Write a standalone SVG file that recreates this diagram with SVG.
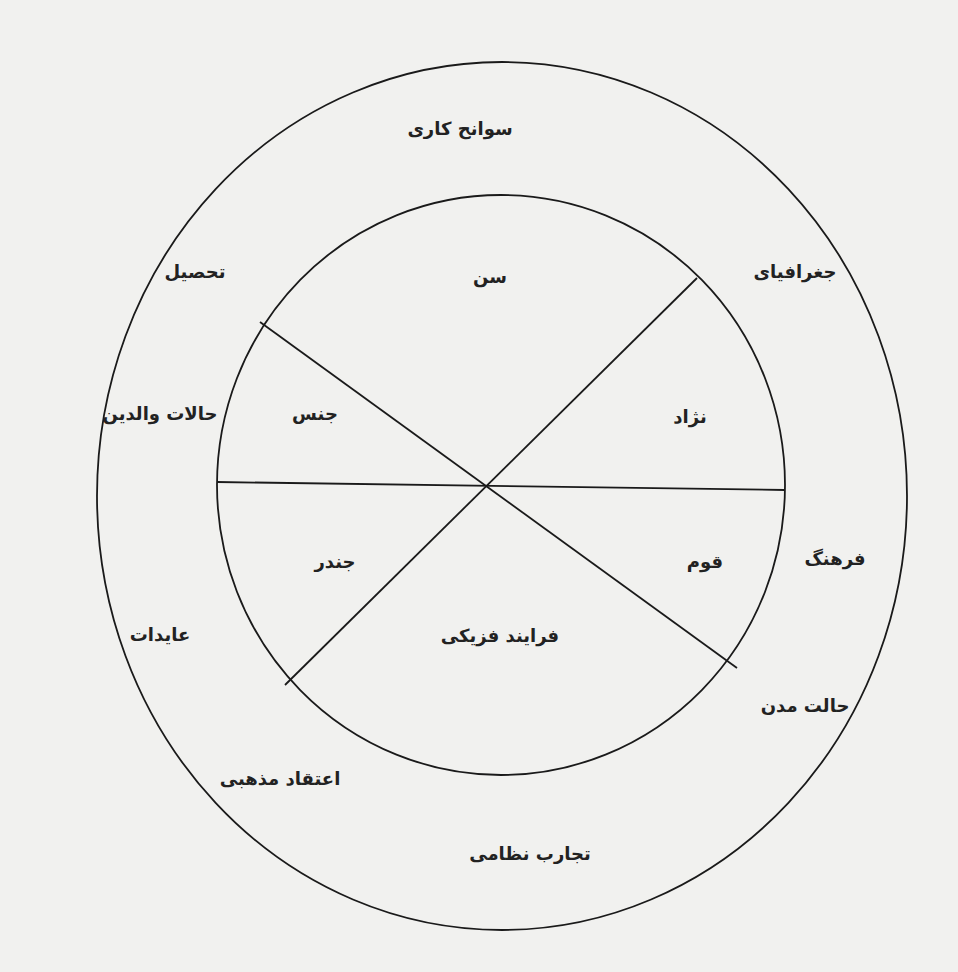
<svg xmlns="http://www.w3.org/2000/svg" width="958" height="972" viewBox="0 0 958 972">
<style>
.ln{fill:none;stroke:#1a1a1a;stroke-width:1.8}
.t{font-family:"DejaVu Sans","Noto Sans",sans-serif;font-weight:bold;font-size:18px;fill:#222;text-anchor:middle;dominant-baseline:middle}
</style>
<rect x="0" y="0" width="958" height="972" fill="#f1f1ef"/>
<g id="outer"><ellipse class="ln" cx="502" cy="496" rx="405" ry="434"/></g>
<g id="inner"><ellipse class="ln" cx="501" cy="485" rx="284" ry="290"/></g>
<g id="connectors">
<line class="ln" x1="217" y1="482" x2="785" y2="490"/>
<line class="ln" x1="697" y1="278" x2="285" y2="685"/>
<line class="ln" x1="260" y1="322" x2="737" y2="668"/>
</g>
<g id="n1"><text class="t" x="460" y="130" direction="rtl">سوانح کاری</text></g>
<g id="n2"><text class="t" x="195" y="273" direction="rtl">تحصیل</text></g>
<g id="n3"><text class="t" x="795" y="273" direction="rtl">جغرافیای</text></g>
<g id="n4"><text class="t" x="160" y="415" direction="rtl">حالات والدین</text></g>
<g id="n5"><text class="t" x="490" y="278" direction="rtl">سن</text></g>
<g id="n6"><text class="t" x="315" y="415" direction="rtl">جنس</text></g>
<g id="n7"><text class="t" x="690" y="418" direction="rtl">نژاد</text></g>
<g id="n8"><text class="t" x="335" y="563" direction="rtl">جندر</text></g>
<g id="n9"><text class="t" x="705" y="563" direction="rtl">قوم</text></g>
<g id="n10"><text class="t" x="835" y="560" direction="rtl">فرهنگ</text></g>
<g id="n11"><text class="t" x="160" y="636" direction="rtl">عایدات</text></g>
<g id="n12"><text class="t" x="500" y="637" direction="rtl">فرایند فزیکی</text></g>
<g id="n13"><text class="t" x="805" y="707" direction="rtl">حالت مدن</text></g>
<g id="n14"><text class="t" x="280" y="780" direction="rtl">اعتقاد مذهبی</text></g>
<g id="n15"><text class="t" x="530" y="855" direction="rtl">تجارب نظامی</text></g>
</svg>
